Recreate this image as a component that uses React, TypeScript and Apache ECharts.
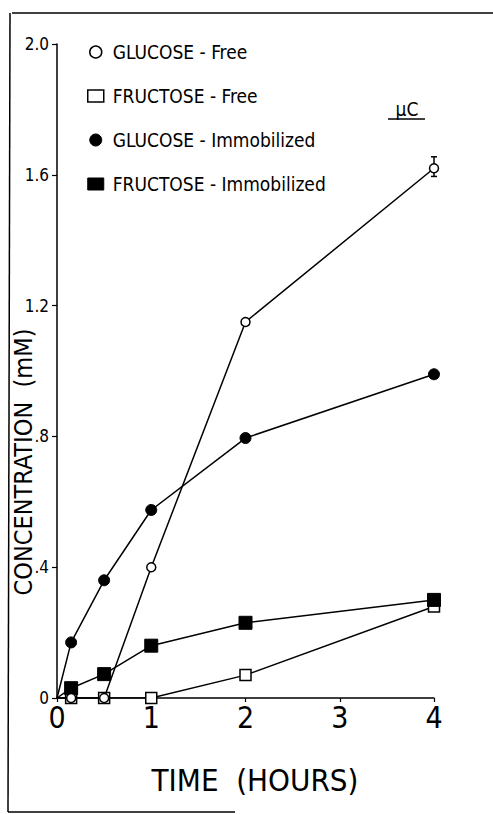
import React, { useEffect, useRef } from "react";
import * as echarts from "echarts";

const timeHours = [0, 0.15, 0.5, 1, 2, 4];
const glucoseFree = [0, 0, 0, 0.4, 1.15, 1.62];
const fructoseFree = [0, 0, 0, 0, 0.07, 0.28];
const glucoseImmobilized = [0, 0.17, 0.36, 0.575, 0.795, 0.99];
const fructoseImmobilized = [0, 0.03, 0.073, 0.16, 0.23, 0.3];
const errorBars = [[4, 1.595, 1.655]];
const xTicks = [0, 1, 2, 3, 4];
const yTickLabels: Record<string, string> = { "0": "0", "0.4": ".4", "0.8": ".8", "1.2": "1.2", "1.6": "1.6", "2": "2.0" };
const seriesNames = ["GLUCOSE - Free", "FRUCTOSE - Free", "GLUCOSE - Immobilized", "FRUCTOSE - Immobilized"];

const narrow = "'Liberation Sans Narrow', 'DejaVu Sans Condensed', 'DejaVu Sans', sans-serif";

function toData(vals: number[]) {
  return vals.map((v, i) =>
    timeHours[i] === 0 ? { value: [timeHours[i], v], symbol: "none" } : { value: [timeHours[i], v] }
  );
}

export default function App() {
  const ref = useRef<HTMLDivElement>(null);
  useEffect(() => {
    if (!ref.current) return;
    const chart = echarts.init(ref.current, null, { renderer: "svg" });
    const black = "#000";
    const open = { color: "#fff", borderColor: black, borderWidth: 1.5 };
    const filled = { color: black, borderColor: black, borderWidth: 1 };
    chart.setOption({
      animation: false,
      backgroundColor: "#fff",
      grid: { left: 57, right: 59, top: 44, bottom: 116, containLabel: false },
      xAxis: {
        type: "value",
        min: 0,
        max: 4,
        interval: 1,
        splitLine: { show: false },
        axisLine: { lineStyle: { color: black, width: 1.5 } },
        axisTick: { show: true, length: 4, lineStyle: { color: black, width: 1.2 } },
        axisLabel: {
          color: black,
          fontSize: 30,
          fontFamily: narrow,
          margin: 4,
          formatter: (v: number) => (xTicks.includes(v) ? String(v) : ""),
        },
      },
      yAxis: {
        type: "value",
        min: 0,
        max: 2,
        interval: 0.4,
        splitLine: { show: false },
        axisLine: { show: true, lineStyle: { color: black, width: 1.5 } },
        axisTick: { show: true, length: 5, lineStyle: { color: black, width: 1.2 } },
        axisLabel: {
          color: black,
          fontSize: 17,
          fontFamily: narrow,
          margin: 8,
          formatter: (v: number) => yTickLabels[String(Math.round(v * 10) / 10)] ?? "",
        },
      },
      legend: {
        orient: "vertical",
        left: 82,
        top: 36,
        itemWidth: 16,
        itemHeight: 12,
        itemGap: 22,
        textStyle: { color: black, fontSize: 19, fontWeight: 500, fontFamily: narrow, lineHeight: 22, padding: [0, 0, 0, 4] },
        data: [
          { name: seriesNames[0], icon: "circle", itemStyle: open },
          { name: seriesNames[1], icon: "rect", itemStyle: open },
          { name: seriesNames[2], icon: "circle", itemStyle: filled },
          { name: seriesNames[3], icon: "rect", itemStyle: filled },
        ],
      },
      graphic: [
        { type: "line", shape: { x1: 12, y1: 13, x2: 493, y2: 13 }, style: { stroke: black, lineWidth: 1.5 } },
        { type: "line", shape: { x1: 10, y1: 13, x2: 8, y2: 812 }, style: { stroke: black, lineWidth: 1.5 } },
        { type: "line", shape: { x1: 8, y1: 812, x2: 235, y2: 812 }, style: { stroke: black, lineWidth: 1.5 } },
        {
          type: "text",
          x: 23,
          y: 462,
          rotation: Math.PI / 2,
          style: { text: "CONCENTRATION  (mM)", fill: black, fontSize: 25, fontFamily: narrow, align: "center", verticalAlign: "middle" },
        },
        {
          type: "text",
          x: 255,
          y: 780,
          style: { text: "TIME  (HOURS)", fill: black, fontSize: 31, fontFamily: narrow, align: "center", verticalAlign: "middle" },
        },
        {
          type: "text",
          x: 407,
          y: 109,
          style: { text: "µC", fill: black, fontSize: 19, fontFamily: narrow, align: "center", verticalAlign: "middle" },
        },
        { type: "line", shape: { x1: 388, y1: 119, x2: 425, y2: 119 }, style: { stroke: black, lineWidth: 1.5 } },
      ],
      series: [
        {
          type: "custom",
          name: "err",
          data: errorBars,
          renderItem: (params: any, api: any) => {
            const top = api.coord([api.value(0), api.value(2)]);
            const bot = api.coord([api.value(0), api.value(1)]);
            const s = { stroke: black, lineWidth: 1.5 };
            return {
              type: "group",
              children: [
                { type: "line", shape: { x1: top[0], y1: top[1], x2: bot[0], y2: bot[1] }, style: s },
                { type: "line", shape: { x1: top[0] - 3, y1: top[1], x2: top[0] + 3, y2: top[1] }, style: s },
                { type: "line", shape: { x1: bot[0] - 3, y1: bot[1], x2: bot[0] + 3, y2: bot[1] }, style: s },
              ],
            };
          },
        },
        {
          type: "line",
          name: seriesNames[2],
          data: toData(glucoseImmobilized),
          symbol: "circle",
          symbolSize: 11,
          lineStyle: { color: black, width: 1.5 },
          itemStyle: filled,
        },
        {
          type: "line",
          name: seriesNames[3],
          data: toData(fructoseImmobilized),
          symbol: "rect",
          symbolSize: 13,
          lineStyle: { color: black, width: 1.5 },
          itemStyle: filled,
        },
        {
          type: "line",
          name: seriesNames[0],
          data: toData(glucoseFree),
          symbol: "circle",
          symbolSize: 9,
          lineStyle: { color: black, width: 1.5 },
          itemStyle: open,
        },
        {
          type: "line",
          name: seriesNames[1],
          data: toData(fructoseFree),
          symbol: "rect",
          symbolSize: 11,
          lineStyle: { color: black, width: 1.5 },
          itemStyle: open,
          z: 1,
        },
      ],
    });
    return () => chart.dispose();
  }, []);
  return <div ref={ref} style={{ width: 493, height: 814, position: "absolute", left: 0, top: 0 }} />;
}
